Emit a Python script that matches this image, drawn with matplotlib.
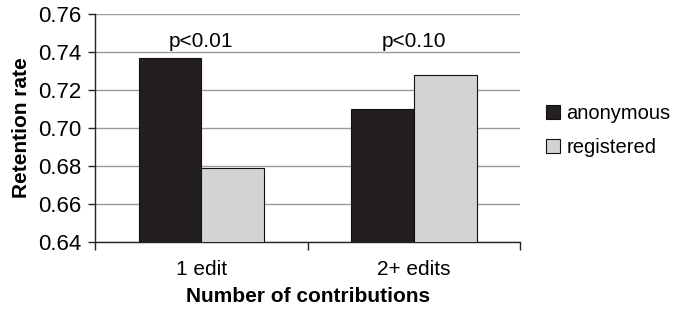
import matplotlib
matplotlib.use("Agg")
import matplotlib.pyplot as plt
import numpy as np

plt.rcParams['font.family'] = ['Liberation Sans', 'DejaVu Sans']

categories = ["1 edit", "2+ edits"]
anonymous = [0.737, 0.710]
registered = [0.679, 0.728]
p_labels = ["p<0.01", "p<0.10"]
y_ticks = [0.64, 0.66, 0.68, 0.70, 0.72, 0.74, 0.76]

fs = 15

fig = plt.figure(figsize=(6.79, 3.10), dpi=100)
ax = fig.add_axes([0.140, 0.219, 0.626, 0.736])

x = np.arange(len(categories))
w = 0.295
ax.bar(x - w / 2, anonymous, w, color="#231f20", edgecolor="#111111",
       linewidth=0.8, label="anonymous", zorder=3)
ax.bar(x + w / 2, registered, w, color="#d1d3d4", edgecolor="#111111",
       linewidth=0.8, label="registered", zorder=3)

for i, p in enumerate(p_labels):
    ax.text(x[i], 0.7425, p, ha="center", va="baseline", fontsize=fs)

ax.set_ylim(0.64, 0.76)
ax.set_xlim(-0.5, 1.5)
ax.set_yticks(y_ticks)
ax.set_yticklabels([f"{v:.2f}" for v in y_ticks], fontsize=fs + 1)
ax.yaxis.grid(True, color="#9a9a9a", linewidth=1.0, zorder=0)

# category boundary ticks and centered labels
ax.set_xticks([-0.5, 0.5, 1.5])
ax.set_xticklabels([])
ax.set_xticks(x, minor=True)
ax.set_xticklabels(categories, minor=True, fontsize=fs)
ax.tick_params(axis="x", which="major", length=6, width=1, color="#222222")
ax.tick_params(axis="x", which="minor", length=0, pad=13)
ax.tick_params(axis="y", length=5, width=1, color="#222222", pad=5)

for s in ["top", "right"]:
    ax.spines[s].set_visible(False)
for s in ["left", "bottom"]:
    ax.spines[s].set_color("#222222")
    ax.spines[s].set_linewidth(1.0)

ax.set_ylabel("Retention rate", fontsize=fs, fontweight="bold", labelpad=5)
ax.set_xlabel("Number of contributions", fontsize=fs, fontweight="bold", labelpad=6)

ax.legend(loc="center left", bbox_to_anchor=(1.062, 0.489), frameon=False,
          fontsize=fs - 0.5, handlelength=0.65, handleheight=0.65,
          handletextpad=0.35, labelspacing=0.75, borderpad=0, borderaxespad=0)

fig.savefig("out.png", dpi=100)
